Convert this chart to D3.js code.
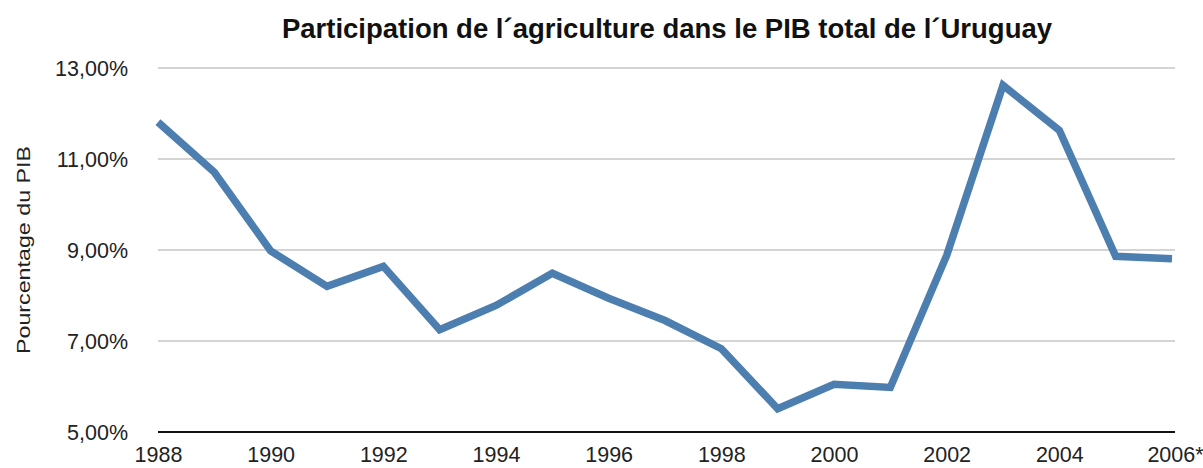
<!DOCTYPE html>
<html>
<head>
<meta charset="utf-8">
<script src="https://cdn.jsdelivr.net/npm/d3@7"></script>
<style>
  body { margin: 0; background: #fff; }
  text { font-family: "Liberation Sans", Arial, sans-serif; }
</style>
</head>
<body>
<div class="chart"></div>
<script>
var years = [1988, 1989, 1990, 1991, 1992, 1993, 1994, 1995, 1996, 1997,
             1998, 1999, 2000, 2001, 2002, 2003, 2004, 2005, 2006];
var share = [11.81, 10.71, 8.98, 8.2, 8.64, 7.25, 7.78, 8.49, 7.94, 7.45,
             6.83, 5.51, 6.05, 5.98, 8.88, 12.62, 11.63, 8.86, 8.81];
var yTicks = [5, 7, 9, 11, 13];
var xTicks = [1988, 1990, 1992, 1994, 1996, 1998, 2000, 2002, 2004, 2006];

var width = 1203, height = 468;
var plotLeft = 158, plotRight = 1172, plotTop = 68, plotBottom = 432;

var svg = d3.select(".chart").append("svg")
    .attr("width", width)
    .attr("height", height);

var x = d3.scaleLinear().domain([1988, 2006]).range([plotLeft, plotRight]);
var y = d3.scaleLinear().domain([5, 13]).range([plotBottom, plotTop]);

// gridlines
svg.selectAll("line.grid")
    .data(yTicks.slice(1))
    .enter()
    .append("line")
    .attr("class", "grid")
    .attr("x1", plotLeft)
    .attr("x2", plotRight + 3)
    .attr("y1", function (d) { return y(d); })
    .attr("y2", function (d) { return y(d); })
    .attr("stroke", "#a9a9a9")
    .attr("stroke-width", 1.2);

// y labels
svg.selectAll("text.ylab")
    .data(yTicks)
    .enter()
    .append("text")
    .attr("class", "ylab")
    .attr("x", 128)
    .attr("y", function (d) { return y(d) + 8; })
    .attr("text-anchor", "end")
    .attr("font-size", 21.5)
    .attr("fill", "#222")
    .text(function (d) { return d3.format(".2f")(d).replace(".", ",") + "%"; });

// x axis
var xAxis = d3.axisBottom(x)
    .tickValues(xTicks)
    .tickSize(0)
    .tickPadding(15)
    .tickFormat(function (d) { return d === 2006 ? "2006*" : String(d); });

var gx = svg.append("g")
    .attr("transform", "translate(0," + plotBottom + ")")
    .call(xAxis);
gx.select(".domain").attr("stroke", "#111").attr("stroke-width", 2.2)
    .attr("d", "M" + plotLeft + ",0H" + (plotRight + 3));
gx.selectAll("text")
    .attr("font-size", 21.5)
    .attr("fill", "#222")
    .attr("font-family", "Liberation Sans, Arial, sans-serif");
gx.selectAll(".tick").filter(function (d) { return d === 2006; })
    .select("text").attr("dx", 3);

// line
var line = d3.line()
    .x(function (d, i) { return x(years[i]); })
    .y(function (d) { return y(d); });

svg.append("path")
    .datum(share)
    .attr("d", line)
    .attr("fill", "none")
    .attr("stroke", "#4d7eb0")
    .attr("stroke-width", 7.5)
    .attr("stroke-linejoin", "miter");

// title
svg.append("text")
    .attr("x", 667)
    .attr("y", 38)
    .attr("text-anchor", "middle")
    .attr("font-size", 27.5)
    .attr("font-weight", "bold")
    .attr("fill", "#111")
    .text("Participation de l´agriculture dans le PIB total de l´Uruguay");

// y axis title
svg.append("text")
    .attr("transform", "translate(30,250) rotate(-90)")
    .attr("text-anchor", "middle")
    .attr("font-size", 18)
    .attr("textLength", 208)
    .attr("lengthAdjust", "spacingAndGlyphs")
    .attr("fill", "#222")
    .text("Pourcentage du PIB");
</script>
</body>
</html>
